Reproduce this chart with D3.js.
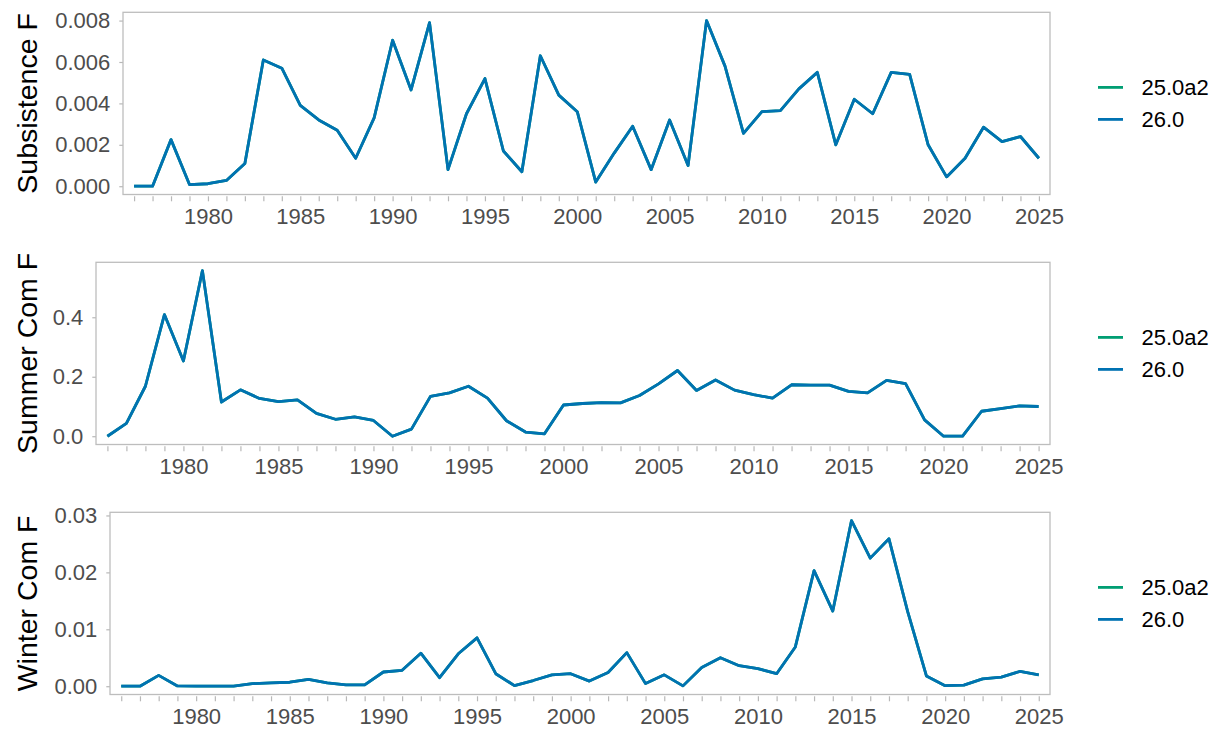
<!DOCTYPE html>
<html>
<head>
<meta charset="utf-8">
<script src="https://cdn.jsdelivr.net/npm/d3@7/dist/d3.min.js"></script>
<style>
  body { margin: 0; background: #fff; }
  text { font-family: "Liberation Sans", Arial, sans-serif; }
</style>
</head>
<body>
<div id="chart"></div>
<script>
// years on the x axis
var years = d3.range(1976, 2026);
var labelYears = [1980, 1985, 1990, 1995, 2000, 2005, 2010, 2015, 2020, 2025];
var versions = ["25.0a2", "26.0"];

// Subsistence F
var subsistenceF = [0, 0, 0.00225, 0.00008, 0.00012, 0.00028, 0.0011, 0.0061, 0.0057, 0.0039,
  0.0032, 0.0027, 0.00135, 0.0033, 0.00705, 0.00465, 0.0079, 0.0008, 0.0035, 0.0052,
  0.0017, 0.0007, 0.0063, 0.0044, 0.0036, 0.0002, 0.0016, 0.0029, 0.0008, 0.0032,
  0.001, 0.008, 0.0058, 0.00255, 0.0036, 0.00365, 0.0047, 0.0055, 0.002, 0.0042,
  0.0035, 0.0055, 0.0054, 0.002, 0.00045, 0.00135, 0.00285, 0.00215, 0.0024, 0.00135];

// Summer Com F
var summerComF = [0, 0.043, 0.168, 0.409, 0.253, 0.557, 0.115, 0.156, 0.127, 0.116,
  0.122, 0.077, 0.057, 0.065, 0.053, 0, 0.024, 0.134, 0.146, 0.168,
  0.128, 0.052, 0.014, 0.008, 0.105, 0.11, 0.113, 0.112, 0.137, 0.176,
  0.221, 0.154, 0.189, 0.155, 0.14, 0.128, 0.173, 0.172, 0.172, 0.151,
  0.146, 0.188, 0.177, 0.055, 0, 0, 0.084, 0.093, 0.102, 0.1];

// Winter Com F
var winterComF = [0, 0, 0.0019, 0.00005, 0, 0, 0, 0.00045, 0.00058, 0.0007,
  0.0012, 0.0006, 0.00025, 0.00025, 0.0025, 0.0028, 0.0058, 0.0015, 0.0057, 0.0085,
  0.0022, 0.0001, 0.001, 0.002, 0.0022, 0.0009, 0.0024, 0.0059, 0.00046, 0.002,
  0.00006, 0.0033, 0.005, 0.0036, 0.0031, 0.0022, 0.0069, 0.0203, 0.0132, 0.0291,
  0.0225, 0.0259, 0.0131, 0.0018, 0.0001, 0.0002, 0.0013, 0.0016, 0.0026, 0.002];

var subsistenceTicks = [0, 0.002, 0.004, 0.006, 0.008];
var summerTicks = [0, 0.2, 0.4];
var winterTicks = [0, 0.01, 0.02, 0.03];

var colors = { "25.0a2": "#009E73", "26.0": "#0072B2" };

// both versions give the same values, the 25.0a2 line sits under 26.0
var panels = [
  { title: "Subsistence F", values: subsistenceF, ticks: subsistenceTicks, fmt: ".3f", left: 123 },
  { title: "Summer Com F", values: summerComF, ticks: summerTicks, fmt: ".1f", left: 96 },
  { title: "Winter Com F", values: winterComF, ticks: winterTicks, fmt: ".2f", left: 110 }
];

var svgWidth = 1222;
var svgHeight = 734;
var right = 1050;
var panelHeight = 182.2;
var panelStep = 250;
var top0 = 12.3;

var svg = d3.select("#chart")
  .append("svg")
  .attr("width", svgWidth)
  .attr("height", svgHeight);

panels.forEach(function(p, i) {
  var top = top0 + i * panelStep;
  var bottom = top + panelHeight;

  var x = d3.scaleLinear()
    .domain([1975.4, 2025.6])
    .range([p.left, right]);

  var maxV = d3.max(p.values);
  var pad = maxV * 0.05;
  var y = d3.scaleLinear()
    .domain([-pad, maxV + pad])
    .range([bottom, top]);

  var g = svg.append("g");

  // y axis
  var yAxis = g.append("g")
    .attr("transform", `translate(${p.left},0)`)
    .call(d3.axisLeft(y).tickValues(p.ticks).tickFormat(d3.format(p.fmt)).tickSize(3.7).tickPadding(9));
  yAxis.select(".domain").remove();
  yAxis.selectAll(".tick line").attr("stroke", "#b8b8b8").attr("stroke-width", 1.2);
  yAxis.selectAll(".tick text")
    .attr("fill", "#4d4d4d")
    .style("font-size", "22px")
    .style("font-family", "'Liberation Sans', Arial, sans-serif");

  // x axis, a tick every year, labels every 5
  var xAxis = g.append("g")
    .attr("transform", `translate(0,${bottom + 1.8})`)
    .call(d3.axisBottom(x).tickValues(years)
      .tickFormat(d => labelYears.indexOf(d) >= 0 ? d : "")
      .tickSize(5).tickPadding(7));
  xAxis.select(".domain").remove();
  xAxis.selectAll(".tick line").attr("stroke", "#b8b8b8").attr("stroke-width", 1.2);
  xAxis.selectAll(".tick text")
    .attr("fill", "#4d4d4d")
    .style("font-size", "22px")
    .style("font-family", "'Liberation Sans', Arial, sans-serif");

  // panel border
  g.append("rect")
    .attr("x", p.left)
    .attr("y", top)
    .attr("width", right - p.left)
    .attr("height", panelHeight)
    .attr("fill", "none")
    .attr("stroke", "#bdbdbd")
    .attr("stroke-width", 1.3);

  var line = d3.line()
    .x((d, j) => x(years[j]))
    .y(d => y(d));

  versions.forEach(function(v) {
    g.append("path")
      .datum(p.values)
      .attr("d", line)
      .attr("fill", "none")
      .attr("stroke", colors[v])
      .attr("stroke-width", 2.8)
      .attr("stroke-linejoin", "round");
  });

  // y title
  g.append("text")
    .attr("transform", `translate(36.5,${(top + bottom) / 2}) rotate(-90)`)
    .attr("text-anchor", "middle")
    .style("font-size", "28.5px")
    .attr("fill", "#000")
    .text(p.title);

  // legend
  var mid = (top + bottom) / 2;
  versions.forEach(function(v, k) {
    var ly = mid - 16 + k * 32;
    g.append("line")
      .attr("x1", 1098).attr("x2", 1123)
      .attr("y1", ly).attr("y2", ly)
      .attr("stroke", colors[v])
      .attr("stroke-width", 2.8);
    g.append("text")
      .attr("x", 1141.5)
      .attr("y", ly)
      .attr("dy", "0.36em")
      .style("font-size", "22px")
      .attr("fill", "#000")
      .text(v);
  });
});
</script>
</body>
</html>
